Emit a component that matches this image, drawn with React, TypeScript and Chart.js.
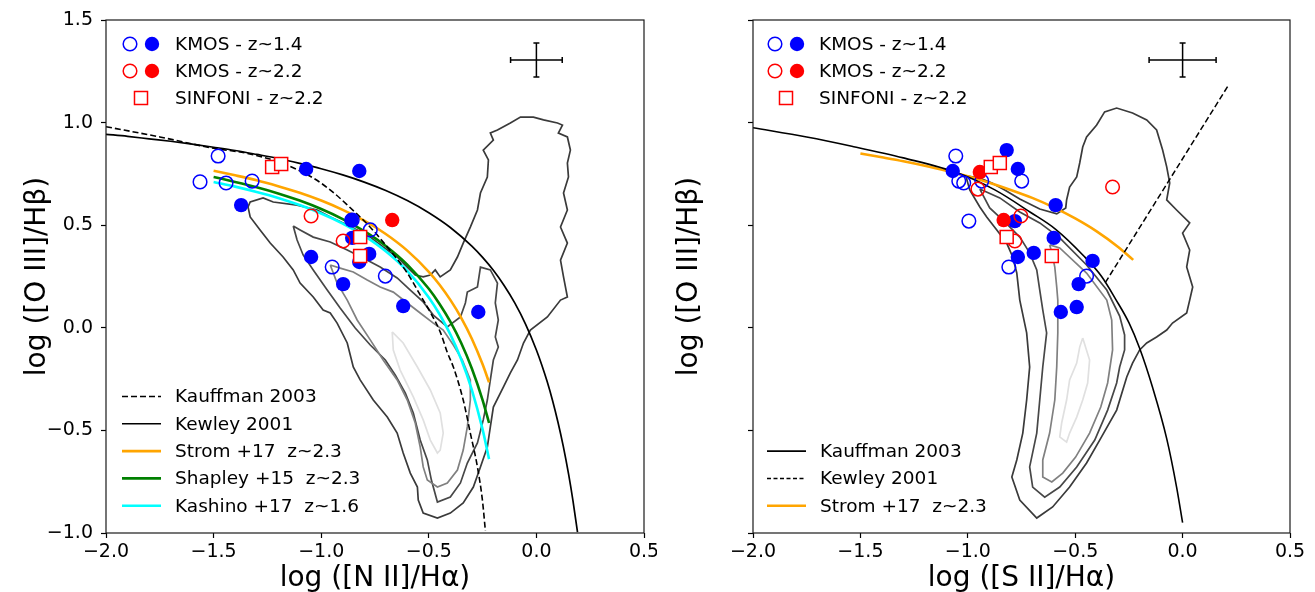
import React, { useEffect, useRef } from 'react';
import { Chart, registerables } from 'chart.js';

Chart.register(...registerables);

type Pt = [number, number];

// ---------------- Axis ticks / labels ----------------
const xTicksRange: number[] = [-2.0, 0.5, 0.5];
const yTicksRange: number[] = [-1.0, 1.5, 0.5];
const xTitleLeft = 'log ([N II]/Hα)';
const xTitleRight = 'log ([S II]/Hα)';
const yTitle = 'log ([O III]/Hβ)';
const markerLegendLabels: string[] = ['KMOS - z~1.4', 'KMOS - z~2.2', 'SINFONI - z~2.2'];
const lineLegendLeft: string[] = ['Kauffman 2003', 'Kewley 2001', 'Strom +17  z~2.3', 'Shapley +15  z~2.3', 'Kashino +17  z~1.6'];
const lineLegendRight: string[] = ['Kauffman 2003', 'Kewley 2001', 'Strom +17  z~2.3'];

// ---------------- Left panel ([N II]) ----------------
const niiKmos14Open: Pt[] = [[-1.479, 0.837], [-1.563, 0.711], [-1.442, 0.706], [-1.321, 0.715], [-0.772, 0.477], [-0.856, 0.525], [-0.949, 0.296], [-0.702, 0.252]];
const niiKmos14Filled: Pt[] = [[-1.372, 0.598], [-1.070, 0.774], [-0.823, 0.764], [-0.860, 0.525], [-0.856, 0.438], [-1.047, 0.345], [-0.898, 0.213], [-0.777, 0.360], [-0.823, 0.321], [-0.619, 0.106], [-0.270, 0.077]];
const niiKmos22Open: Pt[] = [[-1.047, 0.545], [-0.898, 0.423]];
const niiKmos22Filled: Pt[] = [[-0.670, 0.525]];
const niiSinfoni: Pt[] = [[-1.228, 0.784], [-1.186, 0.798], [-0.819, 0.442], [-0.819, 0.350]];
const niiErrorBar: number[] = [0.0, 1.305, 0.12, 0.083];

const niiKauffmann: Pt[] = [[-2.0, 0.98], [-1.75, 0.93], [-1.5, 0.875], [-1.344, 0.85], [-1.19, 0.805], [-1.037, 0.73], [-0.95, 0.665], [-0.88, 0.60], [-0.772, 0.49], [-0.693, 0.394], [-0.6, 0.267], [-0.54, 0.16], [-0.49, 0.07], [-0.447, -0.02], [-0.414, -0.12], [-0.386, -0.191], [-0.34, -0.352], [-0.307, -0.513], [-0.274, -0.678], [-0.251, -0.839], [-0.237, -0.99]];
const niiKewley: Pt[] = [[-2.0, 0.943], [-1.9, 0.933], [-1.8, 0.921], [-1.7, 0.909], [-1.6, 0.895], [-1.5, 0.88], [-1.4, 0.864], [-1.3, 0.845], [-1.2, 0.825], [-1.1, 0.801], [-1.0, 0.775], [-0.9, 0.745], [-0.8, 0.71], [-0.7, 0.669], [-0.6, 0.62], [-0.5, 0.561], [-0.4, 0.489], [-0.3, 0.398], [-0.25, 0.343], [-0.2, 0.28], [-0.15, 0.206], [-0.1, 0.12], [-0.05, 0.017], [0.0, -0.108], [0.025, -0.181], [0.05, -0.262], [0.075, -0.354], [0.1, -0.459], [0.125, -0.578], [0.15, -0.716], [0.17, -0.843], [0.191, -0.996]];
const niiStrom: Pt[] = [[-1.5, 0.765], [-1.4, 0.743], [-1.3, 0.719], [-1.2, 0.69], [-1.1, 0.658], [-1.0, 0.62], [-0.9, 0.575], [-0.8, 0.522], [-0.7, 0.457], [-0.6, 0.376], [-0.5, 0.273], [-0.45, 0.21], [-0.4, 0.136], [-0.35, 0.05], [-0.3, -0.053], [-0.25, -0.178], [-0.22, -0.266]];
const niiShapley: Pt[] = [[-1.5, 0.735], [-1.4, 0.711], [-1.3, 0.685], [-1.2, 0.655], [-1.1, 0.62], [-1.0, 0.579], [-0.9, 0.53], [-0.8, 0.471], [-0.7, 0.399], [-0.6, 0.308], [-0.5, 0.19], [-0.45, 0.116], [-0.4, 0.03], [-0.35, -0.073], [-0.3, -0.198], [-0.25, -0.352], [-0.22, -0.464]];
const niiKashino: Pt[] = [[-1.5, 0.711], [-1.4, 0.688], [-1.3, 0.662], [-1.2, 0.633], [-1.1, 0.598], [-1.0, 0.557], [-0.9, 0.508], [-0.8, 0.448], [-0.7, 0.373], [-0.6, 0.277], [-0.5, 0.148], [-0.45, 0.066], [-0.4, -0.032], [-0.35, -0.152], [-0.3, -0.302], [-0.25, -0.495], [-0.22, -0.64]];

const niiContour1: Pt[] = [[-1.34, 0.589], [-1.33, 0.613], [-1.27, 0.633], [-1.223, 0.613], [-1.112, 0.598], [-1.019, 0.574], [-0.958, 0.54], [-0.898, 0.511], [-0.833, 0.477], [-0.772, 0.442], [-0.712, 0.394], [-0.647, 0.345], [-0.6, 0.296], [-0.563, 0.257], [-0.526, 0.248], [-0.493, 0.257], [-0.47, 0.282], [-0.447, 0.248], [-0.4, 0.282], [-0.367, 0.345], [-0.34, 0.413], [-0.307, 0.491], [-0.274, 0.574], [-0.26, 0.657], [-0.228, 0.735], [-0.223, 0.818], [-0.247, 0.866], [-0.2, 0.915], [-0.214, 0.949], [-0.181, 0.964], [-0.121, 0.998], [-0.074, 1.027], [-0.014, 1.027], [0.033, 1.013], [0.098, 0.998], [0.121, 0.988], [0.102, 0.949], [0.144, 0.93], [0.158, 0.866], [0.144, 0.803], [0.149, 0.735], [0.126, 0.657], [0.144, 0.574], [0.112, 0.491], [0.144, 0.413], [0.112, 0.33], [0.126, 0.248], [0.144, 0.15], [0.112, 0.135], [0.051, 0.053], [-0.028, -0.011], [-0.06, -0.074], [-0.088, -0.157], [-0.121, -0.22], [-0.153, -0.288], [-0.2, -0.386], [-0.214, -0.483], [-0.228, -0.581], [-0.26, -0.678], [-0.293, -0.776], [-0.34, -0.854], [-0.4, -0.903], [-0.46, -0.927], [-0.526, -0.903], [-0.549, -0.839], [-0.553, -0.776], [-0.586, -0.708], [-0.619, -0.61], [-0.647, -0.513], [-0.693, -0.435], [-0.758, -0.352], [-0.819, -0.254], [-0.851, -0.191], [-0.879, -0.074], [-0.926, 0.023], [-0.958, 0.072], [-0.991, 0.087], [-1.037, 0.15], [-1.098, 0.218], [-1.13, 0.282], [-1.177, 0.345], [-1.237, 0.413], [-1.284, 0.477], [-1.33, 0.54], [-1.34, 0.589]];
const niiContour2: Pt[] = [[-1.13, 0.496], [-1.098, 0.477], [-1.037, 0.442], [-0.958, 0.418], [-0.879, 0.379], [-0.805, 0.34], [-0.726, 0.296], [-0.647, 0.243], [-0.586, 0.184], [-0.526, 0.126], [-0.479, 0.062], [-0.414, 0.004], [-0.353, 0.053], [-0.33, 0.121], [-0.321, 0.174], [-0.274, 0.199], [-0.26, 0.296], [-0.214, 0.282], [-0.181, 0.218], [-0.191, 0.121], [-0.177, 0.038], [-0.191, -0.045], [-0.177, -0.094], [-0.2, -0.157], [-0.214, -0.254], [-0.228, -0.352], [-0.247, -0.449], [-0.274, -0.561], [-0.321, -0.659], [-0.353, -0.756], [-0.4, -0.825], [-0.46, -0.849], [-0.488, -0.742], [-0.507, -0.644], [-0.54, -0.547], [-0.572, -0.415], [-0.609, -0.318], [-0.656, -0.23], [-0.702, -0.157], [-0.772, -0.084], [-0.842, -0.001], [-0.912, 0.096], [-0.972, 0.184], [-1.037, 0.282], [-1.084, 0.355], [-1.112, 0.428], [-1.13, 0.496]];
const niiContour3: Pt[] = [[-0.958, 0.306], [-0.912, 0.291], [-0.851, 0.272], [-0.786, 0.233], [-0.726, 0.199], [-0.665, 0.174], [-0.6, 0.121], [-0.54, 0.072], [-0.479, 0.023], [-0.433, -0.011], [-0.386, -0.084], [-0.344, -0.157], [-0.307, -0.254], [-0.307, -0.352], [-0.321, -0.483], [-0.34, -0.596], [-0.367, -0.693], [-0.414, -0.756], [-0.46, -0.776], [-0.507, -0.742], [-0.526, -0.678], [-0.54, -0.581], [-0.563, -0.464], [-0.6, -0.352], [-0.647, -0.254], [-0.712, -0.157], [-0.772, -0.059], [-0.833, 0.038], [-0.879, 0.135], [-0.926, 0.218], [-0.958, 0.306]];
const niiContour4: Pt[] = [[-0.67, -0.02], [-0.619, -0.074], [-0.553, -0.191], [-0.493, -0.303], [-0.447, -0.415], [-0.433, -0.513], [-0.447, -0.596], [-0.46, -0.61], [-0.493, -0.547], [-0.526, -0.449], [-0.572, -0.337], [-0.633, -0.206], [-0.665, -0.108], [-0.67, -0.02]];

// ---------------- Right panel ([S II]) ----------------
const siiKmos14Open: Pt[] = [[-1.056, 0.837], [-1.042, 0.715], [-1.019, 0.706], [-0.935, 0.715], [-0.749, 0.715], [-0.995, 0.52], [-0.809, 0.296], [-0.447, 0.252]];
const siiKmos14Filled: Pt[] = [[-0.819, 0.866], [-1.07, 0.764], [-0.767, 0.774], [-0.591, 0.598], [-0.781, 0.52], [-0.6, 0.438], [-0.693, 0.365], [-0.767, 0.345], [-0.419, 0.326], [-0.484, 0.213], [-0.493, 0.101], [-0.567, 0.077]];
const siiKmos22Open: Pt[] = [[-0.953, 0.676], [-0.753, 0.545], [-0.781, 0.423], [-0.326, 0.686]];
const siiKmos22Filled: Pt[] = [[-0.944, 0.759], [-0.833, 0.525]];
const siiSinfoni: Pt[] = [[-0.893, 0.784], [-0.851, 0.803], [-0.819, 0.442], [-0.609, 0.35]];
const siiErrorBar: number[] = [0.0, 1.305, 0.156, 0.083];

const siiKauffmann: Pt[] = [[-2.0, 0.975], [-1.75, 0.93], [-1.54, 0.885], [-1.3, 0.828], [-1.04, 0.752], [-0.874, 0.672], [-0.707, 0.562], [-0.591, 0.48], [-0.46, 0.35], [-0.377, 0.25], [-0.312, 0.14], [-0.25, 0.025], [-0.2, -0.1], [-0.14, -0.29], [-0.074, -0.54], [-0.028, -0.776], [0.0, -0.95]];
const siiKewley: Pt[] = [[-0.36, 0.22], [0.214, 1.183]];
const siiStrom: Pt[] = [[-1.5, 0.849], [-1.4, 0.831], [-1.3, 0.812], [-1.2, 0.79], [-1.1, 0.765], [-1.0, 0.738], [-0.9, 0.707], [-0.8, 0.672], [-0.7, 0.633], [-0.6, 0.587], [-0.5, 0.533], [-0.4, 0.47], [-0.3, 0.394], [-0.23, 0.331]];

const siiContour1: Pt[] = [[-1.009, 0.74], [-0.944, 0.73], [-0.888, 0.706], [-0.828, 0.672], [-0.758, 0.628], [-0.665, 0.579], [-0.586, 0.555], [-0.544, 0.584], [-0.54, 0.623], [-0.526, 0.686], [-0.493, 0.735], [-0.479, 0.803], [-0.465, 0.881], [-0.447, 0.93], [-0.4, 0.988], [-0.363, 1.052], [-0.307, 1.071], [-0.233, 1.047], [-0.167, 1.013], [-0.121, 0.964], [-0.093, 0.866], [-0.074, 0.784], [-0.06, 0.706], [-0.074, 0.623], [-0.028, 0.574], [0.033, 0.511], [0.0, 0.462], [0.033, 0.379], [0.019, 0.296], [0.047, 0.199], [0.033, 0.135], [0.019, 0.072], [-0.047, 0.023], [-0.074, -0.011], [-0.121, -0.045], [-0.167, -0.074], [-0.2, -0.108], [-0.233, -0.172], [-0.26, -0.24], [-0.307, -0.401], [-0.386, -0.547], [-0.447, -0.659], [-0.526, -0.776], [-0.605, -0.873], [-0.679, -0.927], [-0.758, -0.839], [-0.795, -0.727], [-0.772, -0.644], [-0.744, -0.513], [-0.726, -0.352], [-0.712, -0.191], [-0.726, -0.025], [-0.758, 0.135], [-0.772, 0.267], [-0.791, 0.345], [-0.819, 0.413], [-0.865, 0.477], [-0.912, 0.54], [-0.944, 0.589], [-0.991, 0.672], [-1.009, 0.74]];
const siiContour2: Pt[] = [[-0.944, 0.676], [-0.851, 0.633], [-0.758, 0.564], [-0.665, 0.511], [-0.572, 0.438], [-0.447, 0.306], [-0.353, 0.184], [-0.293, 0.057], [-0.27, -0.035], [-0.27, -0.108], [-0.293, -0.191], [-0.307, -0.269], [-0.349, -0.401], [-0.409, -0.547], [-0.493, -0.678], [-0.572, -0.776], [-0.642, -0.825], [-0.698, -0.776], [-0.712, -0.678], [-0.679, -0.513], [-0.665, -0.352], [-0.651, -0.191], [-0.633, -0.025], [-0.651, 0.087], [-0.665, 0.184], [-0.679, 0.282], [-0.712, 0.365], [-0.758, 0.442], [-0.828, 0.516], [-0.898, 0.584], [-0.944, 0.676]];
const siiContour3: Pt[] = [[-0.619, 0.404], [-0.572, 0.389], [-0.447, 0.267], [-0.353, 0.135], [-0.33, 0.038], [-0.326, -0.108], [-0.349, -0.269], [-0.381, -0.386], [-0.433, -0.513], [-0.498, -0.63], [-0.558, -0.708], [-0.609, -0.751], [-0.651, -0.727], [-0.651, -0.644], [-0.619, -0.513], [-0.595, -0.352], [-0.586, -0.191], [-0.581, -0.025], [-0.581, 0.135], [-0.586, 0.199], [-0.595, 0.296], [-0.609, 0.369], [-0.619, 0.404]];
const siiContour4: Pt[] = [[-0.465, -0.05], [-0.433, -0.157], [-0.442, -0.269], [-0.465, -0.352], [-0.493, -0.435], [-0.526, -0.513], [-0.54, -0.557], [-0.572, -0.532], [-0.563, -0.464], [-0.54, -0.352], [-0.526, -0.254], [-0.493, -0.172], [-0.479, -0.094], [-0.465, -0.05]];

// ---------------- Styling ----------------
const FONT = '"DejaVu Sans", "Liberation Sans", sans-serif';
const BLUE = '#0000ff';
const RED = '#ff0000';
const ORANGE = '#ffa500';
const GREEN = '#008000';
const CYAN = '#00ffff';
const CONTOUR_COLORS = ['#3a3a3a', '#474747', '#808080', '#e0e0e0'];
const R_OPEN = 6.8;
const R_FILLED = 7.2;
const R_SQUARE = 9.2;

const toXY = (a: Pt[]) => a.map(([x, y]) => ({ x, y }));

function markerSet(label: string, data: Pt[], color: string, filled: boolean, order: number, square = false) {
  const r = square ? R_SQUARE : filled ? R_FILLED : R_OPEN;
  return {
    label,
    data: toXY(data),
    showLine: false,
    pointStyle: square ? 'rect' : 'circle',
    pointRadius: r,
    pointHoverRadius: r,
    pointBackgroundColor: filled ? color : square ? '#ffffff' : 'rgba(255,255,255,0)',
    pointBorderColor: color,
    pointBorderWidth: filled ? 0 : 1.5,
    order,
  };
}

function lineSet(label: string, data: Pt[], color: string, width: number, order: number, dash: number[] = [], smooth = true) {
  return {
    label,
    data: toXY(data),
    showLine: true,
    borderColor: color,
    borderWidth: width,
    borderDash: dash,
    pointRadius: 0,
    pointHoverRadius: 0,
    fill: false,
    cubicInterpolationMode: smooth ? 'monotone' : 'default',
    tension: 0,
    order,
  };
}

const tickFmt = (v: any) => {
  const n = Math.round(Number(v) * 10) / 10;
  return (n === 0 ? '0.0' : n.toFixed(1)).replace('-', '\u2212');
};

type LineLegend = { text: string; color: string; width: number; dash: number[] };

interface PanelSpec {
  datasets: any[];
  xTitle: string;
  showYTicks: boolean;
  yAxisWidth: number;
  yTitlePad: number;
  padRight: number;
  err: number[];
  mk: { open: number; filled: number; square: number; text: number };
  lineLegend: LineLegend[];
  handle: [number, number];
  lineTextX: number;
}

function drawMarker(ctx: CanvasRenderingContext2D, x: number, y: number, color: string, kind: 'open' | 'filled' | 'square') {
  ctx.save();
  ctx.lineWidth = 1.5;
  ctx.strokeStyle = color;
  ctx.fillStyle = color;
  ctx.beginPath();
  if (kind === 'square') {
    const s = R_SQUARE * Math.SQRT1_2;
    ctx.rect(x - s, y - s, 2 * s, 2 * s);
    ctx.fillStyle = '#fff';
    ctx.fill();
    ctx.stroke();
  } else if (kind === 'filled') {
    ctx.arc(x, y, R_FILLED, 0, Math.PI * 2);
    ctx.fill();
  } else {
    ctx.arc(x, y, R_OPEN, 0, Math.PI * 2);
    ctx.stroke();
  }
  ctx.restore();
}

function decorPlugin(p: PanelSpec) {
  return {
    id: 'decor',
    afterDatasetsDraw(chart: any) {
      const { ctx, chartArea: a, scales } = chart;
      const xs = scales.x;
      const ys = scales.y;
      ctx.save();
      // error bar
      const [ex, ey, dx, dy] = p.err;
      const cx = xs.getPixelForValue(ex);
      const cy = ys.getPixelForValue(ey);
      const x0 = xs.getPixelForValue(ex - dx);
      const x1 = xs.getPixelForValue(ex + dx);
      const y0 = ys.getPixelForValue(ey + dy);
      const y1 = ys.getPixelForValue(ey - dy);
      ctx.strokeStyle = '#000';
      ctx.lineWidth = 1.5;
      ctx.beginPath();
      ctx.moveTo(x0, cy); ctx.lineTo(x1, cy);
      ctx.moveTo(cx, y0); ctx.lineTo(cx, y1);
      ctx.moveTo(x0, cy - 3); ctx.lineTo(x0, cy + 3);
      ctx.moveTo(x1, cy - 3); ctx.lineTo(x1, cy + 3);
      ctx.moveTo(cx - 3, y0); ctx.lineTo(cx + 3, y0);
      ctx.moveTo(cx - 3, y1); ctx.lineTo(cx + 3, y1);
      ctx.stroke();

      // marker legend
      ctx.font = `18.5px ${FONT}`;
      ctx.textBaseline = 'middle';
      ctx.textAlign = 'left';
      const rows = [24, 51, 78];
      drawMarker(ctx, a.left + p.mk.open, a.top + rows[0], BLUE, 'open');
      drawMarker(ctx, a.left + p.mk.filled, a.top + rows[0], BLUE, 'filled');
      drawMarker(ctx, a.left + p.mk.open, a.top + rows[1], RED, 'open');
      drawMarker(ctx, a.left + p.mk.filled, a.top + rows[1], RED, 'filled');
      drawMarker(ctx, a.left + p.mk.square, a.top + rows[2], RED, 'square');
      ctx.fillStyle = '#000';
      markerLegendLabels.forEach((t, i) => ctx.fillText(t, a.left + p.mk.text, a.top + rows[i] + 1));

      // line legend
      const n = p.lineLegend.length;
      p.lineLegend.forEach((row, i) => {
        const ly = a.bottom - 27.3 * (n - i);
        ctx.beginPath();
        ctx.strokeStyle = row.color;
        ctx.lineWidth = row.width;
        ctx.setLineDash(row.dash);
        ctx.moveTo(a.left + p.handle[0], ly);
        ctx.lineTo(a.left + p.handle[1], ly);
        ctx.stroke();
        ctx.setLineDash([]);
        ctx.fillStyle = '#000';
        ctx.fillText(row.text, a.left + p.lineTextX, ly + 1);
      });
      ctx.restore();
    },
    afterDraw(chart: any) {
      const { ctx, chartArea: a } = chart;
      ctx.save();
      ctx.strokeStyle = '#1a1a1a';
      ctx.lineWidth = 1.2;
      ctx.strokeRect(a.left, a.top, a.right - a.left, a.bottom - a.top);
      ctx.restore();
    },
  };
}

function buildConfig(p: PanelSpec): any {
  return {
    type: 'scatter',
    data: { datasets: p.datasets },
    options: {
      responsive: false,
      animation: false,
      events: [],
      devicePixelRatio: 1,
      layout: { padding: { top: 20, right: p.padRight, bottom: 0, left: 0 } },
      plugins: { legend: { display: false }, tooltip: { enabled: false } },
      scales: {
        x: {
          type: 'linear',
          min: xTicksRange[0],
          max: xTicksRange[1],
          ticks: { stepSize: xTicksRange[2], callback: tickFmt, font: { family: FONT, size: 19 }, color: '#000', padding: 3, maxRotation: 0, autoSkip: false },
          grid: { display: true, drawOnChartArea: false, drawTicks: true, tickLength: 5, tickColor: '#000', tickWidth: 1.2 },
          border: { display: false },
          title: { display: true, text: p.xTitle, color: '#000', font: { family: FONT, size: 28, lineHeight: 1.0 }, padding: { top: 0, bottom: -1 } },
          afterFit: (s: any) => { s.height = 59; s.paddingLeft = 0; s.paddingRight = 0; },
        },
        y: {
          type: 'linear',
          min: yTicksRange[0],
          max: yTicksRange[1],
          ticks: { display: p.showYTicks, stepSize: yTicksRange[2], callback: tickFmt, font: { family: FONT, size: 19 }, color: '#000', padding: 8 },
          grid: { display: true, drawOnChartArea: false, drawTicks: true, tickLength: 5, tickColor: '#000', tickWidth: 1.2 },
          border: { display: false },
          title: { display: true, text: yTitle, color: '#000', font: { family: FONT, size: 28, lineHeight: 1.0 }, padding: { top: p.yTitlePad, bottom: 0 } },
          afterFit: (s: any) => { s.width = p.yAxisWidth; s.paddingTop = 0; s.paddingBottom = 0; },
        },
      },
    },
    plugins: [decorPlugin(p)],
  };
}

const leftPanel: PanelSpec = {
  datasets: [
    markerSet('SINFONI - z~2.2', niiSinfoni, RED, false, 0, true),
    markerSet('KMOS - z~2.2 (AGN)', niiKmos22Filled, RED, true, 1),
    markerSet('KMOS - z~2.2', niiKmos22Open, RED, false, 2),
    markerSet('KMOS - z~1.4 (AGN)', niiKmos14Filled, BLUE, true, 3),
    markerSet('KMOS - z~1.4', niiKmos14Open, BLUE, false, 4),
    lineSet('Kauffman 2003', niiKauffmann, '#000', 1.6, 10, [6, 3]),
    lineSet('Kewley 2001', niiKewley, '#000', 1.7, 10),
    lineSet('Kashino +17  z~1.6', niiKashino, CYAN, 2.6, 11),
    lineSet('Shapley +15  z~2.3', niiShapley, GREEN, 2.6, 11),
    lineSet('Strom +17  z~2.3', niiStrom, ORANGE, 2.6, 11),
    lineSet('SDSS contour 4', niiContour4, CONTOUR_COLORS[3], 1.7, 20, [], false),
    lineSet('SDSS contour 3', niiContour3, CONTOUR_COLORS[2], 1.7, 21, [], false),
    lineSet('SDSS contour 2', niiContour2, CONTOUR_COLORS[1], 1.7, 22, [], false),
    lineSet('SDSS contour 1', niiContour1, CONTOUR_COLORS[0], 1.7, 23, [], false),
  ],
  xTitle: xTitleLeft,
  showYTicks: true,
  yAxisWidth: 106,
  yTitlePad: 24,
  padRight: 13,
  err: niiErrorBar,
  mk: { open: 24, filled: 46, square: 35, text: 69 },
  lineLegend: [
    { text: lineLegendLeft[0], color: '#000', width: 1.6, dash: [6, 3] },
    { text: lineLegendLeft[1], color: '#000', width: 1.6, dash: [] },
    { text: lineLegendLeft[2], color: ORANGE, width: 2.6, dash: [] },
    { text: lineLegendLeft[3], color: GREEN, width: 2.6, dash: [] },
    { text: lineLegendLeft[4], color: CYAN, width: 2.6, dash: [] },
  ],
  handle: [16, 55],
  lineTextX: 69,
};

const rightPanel: PanelSpec = {
  datasets: [
    markerSet('SINFONI - z~2.2', siiSinfoni, RED, false, 0, true),
    markerSet('KMOS - z~2.2 (AGN)', siiKmos22Filled, RED, true, 1),
    markerSet('KMOS - z~2.2', siiKmos22Open, RED, false, 2),
    markerSet('KMOS - z~1.4 (AGN)', siiKmos14Filled, BLUE, true, 3),
    markerSet('KMOS - z~1.4', siiKmos14Open, BLUE, false, 4),
    lineSet('Kauffman 2003', siiKauffmann, '#000', 1.6, 10),
    lineSet('Kewley 2001', siiKewley, '#000', 1.5, 10, [6, 3], false),
    lineSet('Strom +17  z~2.3', siiStrom, ORANGE, 2.6, 11),
    lineSet('SDSS contour 4', siiContour4, CONTOUR_COLORS[3], 1.7, 20, [], false),
    lineSet('SDSS contour 3', siiContour3, CONTOUR_COLORS[2], 1.7, 21, [], false),
    lineSet('SDSS contour 2', siiContour2, CONTOUR_COLORS[1], 1.7, 22, [], false),
    lineSet('SDSS contour 1', siiContour1, CONTOUR_COLORS[0], 1.7, 23, [], false),
  ],
  xTitle: xTitleRight,
  showYTicks: false,
  yAxisWidth: 96,
  yTitlePad: 19,
  padRight: 25,
  err: siiErrorBar,
  mk: { open: 22, filled: 44, square: 33, text: 66 },
  lineLegend: [
    { text: lineLegendRight[0], color: '#000', width: 1.6, dash: [] },
    { text: lineLegendRight[1], color: '#000', width: 1.5, dash: [4, 2.5] },
    { text: lineLegendRight[2], color: ORANGE, width: 2.6, dash: [] },
  ],
  handle: [14, 53],
  lineTextX: 67,
};

export default function App() {
  const leftRef = useRef<HTMLCanvasElement>(null);
  const rightRef = useRef<HTMLCanvasElement>(null);

  useEffect(() => {
    const c1 = new Chart(leftRef.current as HTMLCanvasElement, buildConfig(leftPanel));
    const c2 = new Chart(rightRef.current as HTMLCanvasElement, buildConfig(rightPanel));
    return () => {
      c1.destroy();
      c2.destroy();
    };
  }, []);

  return (
    <div style={{ position: 'absolute', left: 0, top: 0, width: 1315, height: 592, background: '#fff', overflow: 'hidden' }}>
      <canvas ref={leftRef} width={657} height={592} style={{ position: 'absolute', left: 0, top: 0, width: 657, height: 592 }} />
      <canvas ref={rightRef} width={658} height={592} style={{ position: 'absolute', left: 657, top: 0, width: 658, height: 592 }} />
    </div>
  );
}
